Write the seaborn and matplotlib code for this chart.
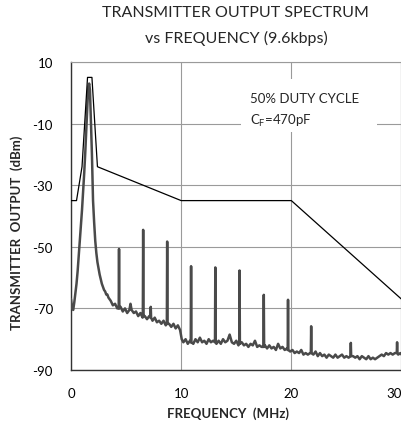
import numpy as np
import pandas as pd
import matplotlib
matplotlib.use("Agg")
import matplotlib.pyplot as plt
from matplotlib.patches import Rectangle
import seaborn as sns

# ---------------- data ----------------
noise_freq = [0.0, 0.1, 0.2, 0.3, 0.4, 0.5, 0.6, 0.7, 0.8, 0.9, 1.0, 1.1, 1.2, 1.3, 1.4, 1.5,
              1.58, 1.65, 1.72, 1.8, 1.9, 2.0, 2.1, 2.2, 2.3, 2.4, 2.5, 2.6, 2.7, 2.8, 2.9, 3.0,
              3.1, 3.2, 3.3, 3.4, 3.6, 3.8, 4.0, 4.2, 4.5, 4.7, 4.9, 5.1, 5.3, 5.4, 5.5, 5.7,
              5.9, 6.1, 6.3, 6.5, 6.7, 6.9, 7.1, 7.4, 7.6, 7.8, 8.0, 8.2, 8.4, 8.6, 8.9, 9.1,
              9.3, 9.5, 9.7, 9.9, 10.05, 10.2, 10.4, 10.6, 10.8, 11.1, 11.3, 11.5, 11.7, 11.9,
              12.1, 12.3, 12.5, 12.7, 12.9, 13.2, 13.4, 13.6, 13.8, 14.0, 14.2, 14.4, 14.6,
              14.8, 15.0, 15.2, 15.5, 15.7, 15.9, 16.1, 16.3, 16.5, 16.7, 16.9, 17.1, 17.3,
              17.6, 17.8, 18.0, 18.2, 18.4, 18.6, 18.8, 19.0, 19.2, 19.4, 19.6, 19.9, 20.1,
              20.3, 20.5, 20.7, 20.9, 21.1, 21.3, 21.5, 21.7, 22.0, 22.2, 22.4, 22.6, 22.8,
              23.0, 23.2, 23.4, 23.6, 23.8, 24.0, 24.2, 24.4, 24.6, 24.8, 25.0, 25.2, 25.6,
              25.8, 26.0, 26.2, 26.4, 26.6, 26.8, 27.0, 27.2, 27.4, 27.6, 27.8, 28.0, 28.2,
              28.4, 28.6, 28.8, 29.0, 29.2, 29.4, 29.7, 29.9, 30.0]
noise_dbm = [-67, -70, -70.5, -68, -65, -62, -58, -53, -48, -43, -38, -32, -26, -19, -11, -3,
             2, 3, 1, -8, -20, -35, -42, -48, -52, -55, -57, -59, -60.5, -62, -63, -64,
             -64.5, -65.5, -65.5, -66.5, -67.5, -69, -68.5, -70, -69.5, -71, -70, -71.5, -70.5, -68.5, -70.5, -71.5,
             -71, -72.5, -71.5, -73, -72.5, -73.5, -72.5, -74, -73, -74.5, -74, -75, -74, -75.5, -75, -76,
             -75, -76.5, -75.5, -77, -80, -81, -80, -81.5, -80.5, -81.5, -80, -81, -79.5, -81,
             -80.5, -81.5, -80, -81, -80.5, -81.5, -80.5, -81.5, -80, -81, -80.5, -78.5, -81,
             -81.5, -80.5, -82, -81, -82, -81.5, -82.5, -81.5, -82, -80.5, -82.5, -82, -82.5,
             -82, -83, -82, -83, -82.5, -83.5, -81.5, -83, -82.5, -83.5, -83, -84, -83.5,
             -84.5, -84, -84.5, -83.5, -85, -84.5, -85, -84.5, -85, -84, -85.5, -84.5, -85.5,
             -85, -86, -85, -85.5, -86, -85, -86, -85.5, -85, -86, -85.5, -86, -85.5,
             -86, -85.5, -86.5, -85.5, -86, -86.5, -85.5, -86.5, -86, -86.5, -86, -85.5, -85,
             -85.5, -84.5, -85, -84.5, -85, -84.5, -85, -84.5, -85]

spur_freq = [4.36, 6.55, 7.24, 8.73, 10.9, 13.1, 15.3, 17.5, 19.7, 21.8, 25.4, 29.6]
spur_top = [-50.7, -44.5, -69.5, -48.3, -56.3, -56.7, -57.7, -65.6, -67.2, -75.8, -81.2, -81.0]
spur_base = [-70, -72.5, -73, -75, -81, -81, -81.5, -82.5, -83.5, -84.5, -85.5, -84.5]

mask_freq = [0, 0.5, 1.0, 1.5, 1.9, 2.4, 10, 20, 30]
mask_dbm = [-35, -35, -24, 5, 5, -24, -35, -35, -67]

x_ticks = [0, 10, 20, 30]
y_ticks = [10, -10, -30, -50, -70, -90]

# build the spectrum table (noise floor + spur spikes)
rows = list(zip(noise_freq, noise_dbm))
for f, top, base in zip(spur_freq, spur_top, spur_base):
    rows += [(f - 0.03, base), (f, top), (f + 0.03, base)]
spec = pd.DataFrame(rows, columns=["freq", "dbm"]).sort_values("freq")
mask = pd.DataFrame({"freq": mask_freq, "dbm": mask_dbm})

# ---------------- style ----------------
sns.set_theme(style="white")
plt.rcParams["font.family"] = ["Lato", "DejaVu Sans"]

W, H = 402, 427
fig = plt.figure(figsize=(W / 100, H / 100), dpi=100)
ax = fig.add_axes([71 / W, 1 - 371 / H, (401.5 - 71) / W, (371 - 63) / H])

sns.lineplot(data=spec, x="freq", y="dbm", ax=ax, color="#4a4a4a", linewidth=1.8,
             estimator=None, sort=False, zorder=3)
sns.lineplot(data=mask, x="freq", y="dbm", ax=ax, color="black", linewidth=0.9,
             estimator=None, sort=False, zorder=4)

ax.set_xlim(0, 30)
ax.set_ylim(-90, 10)
ax.set_xticks(x_ticks)
ax.set_yticks(y_ticks)
ax.set_xticklabels([str(t) for t in x_ticks])
ax.set_yticklabels([str(t) for t in y_ticks])
ax.tick_params(axis="both", length=0, labelsize=9.5, colors="black")
ax.tick_params(axis="y", pad=13)
ax.tick_params(axis="x", pad=12)
ax.get_xticklabels()[-1].set_horizontalalignment("right")

ax.grid(True, color="#9a9a9a", linewidth=0.8)
ax.set_axisbelow(True)
for s in ["left", "bottom"]:
    ax.spines[s].set_color("#333333")
    ax.spines[s].set_linewidth(1.0)
for s in ["top", "right"]:
    ax.spines[s].set_color("#9a9a9a")
    ax.spines[s].set_linewidth(0.8)

ax.set_xlabel("")
ax.set_ylabel("")

# white box behind annotation
tr = ax.transData.inverted()
(x0, y0) = tr.transform((241, H - 133))
(x1, y1) = tr.transform((377, H - 80))
ax.add_patch(Rectangle((x0, y0), x1 - x0, y1 - y0, facecolor="white", edgecolor="none", zorder=2))

fig.text(250 / W, 1 - 99 / H, "50% DUTY CYCLE", fontsize=9.5, ha="left", va="center")
fig.text(250 / W, 1 - 121 / H, r"C$_\mathregular{F}$=470pF", fontsize=9.5, ha="left", va="center")

fig.text(235 / W, 1 - 13 / H, "TRANSMITTER OUTPUT SPECTRUM", fontsize=11.5, ha="center", va="center")
fig.text(236 / W, 1 - 38 / H, "vs FREQUENCY (9.6kbps)", fontsize=11.5, ha="center", va="center")

fig.text(228 / W, 1 - 414 / H, "FREQUENCY  (MHz)", fontsize=9.5, fontweight="bold", ha="center", va="center")
fig.text(17 / W, 1 - 233 / H, "TRANSMITTER  OUTPUT  (dBm)", fontsize=9.5, fontweight="bold",
         ha="center", va="center", rotation=90)

fig.savefig("out.png", dpi=100)
